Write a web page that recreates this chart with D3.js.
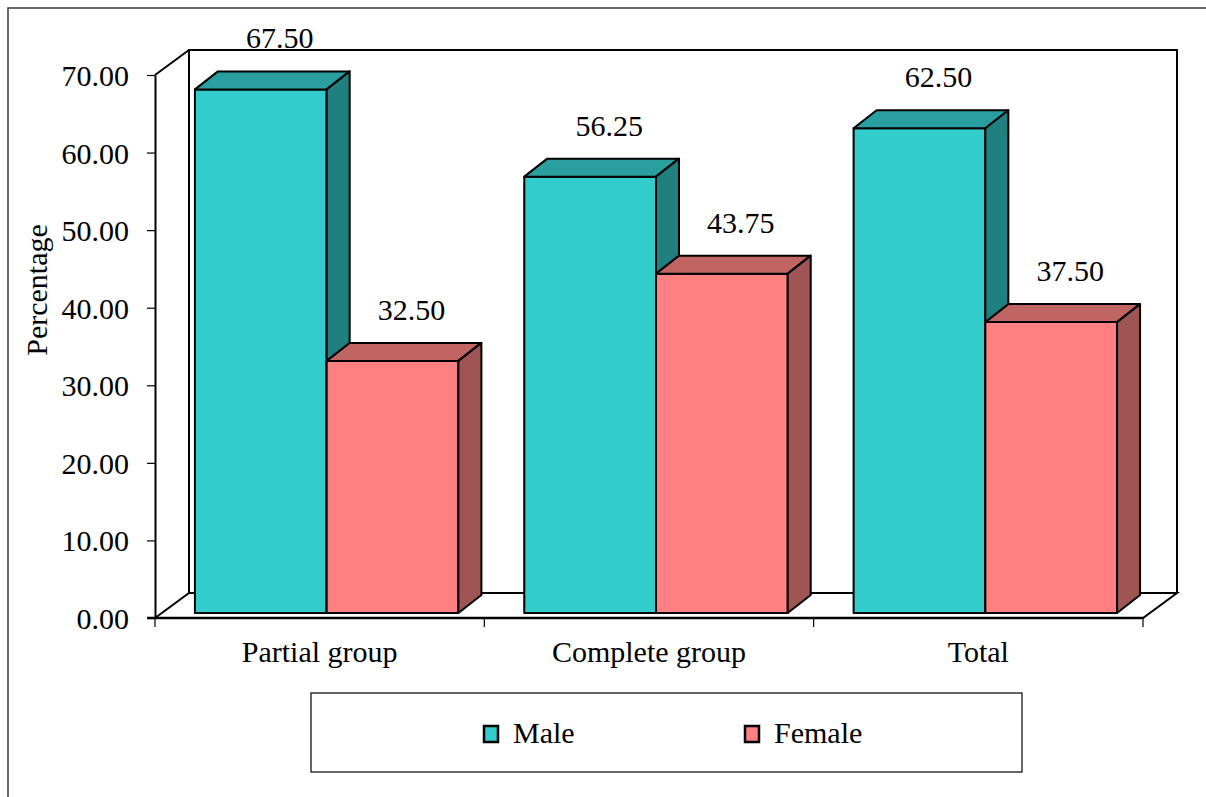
<!DOCTYPE html>
<html>
<head>
<meta charset="utf-8">
<script src="https://cdn.jsdelivr.net/npm/d3@7"></script>
<style>
  html, body { margin: 0; padding: 0; background: #fff; }
  svg { display: block; }
  text { font-family: "Liberation Serif", "Times New Roman", serif; fill: #000; }
</style>
</head>
<body>
<svg id="chart" width="1206" height="797"></svg>
<script>
// Data
const categories = ["Partial group", "Complete group", "Total"];
const seriesNames = ["Male", "Female"];
const maleValues = [67.50, 56.25, 62.50];
const femaleValues = [32.50, 43.75, 37.50];
const yTickValues = [0, 10, 20, 30, 40, 50, 60, 70];

const seriesValues = [maleValues, femaleValues];
const frontColors = ["#33CCCC", "#FF8080"];
const topColors = ["#2A9F9F", "#C06464"];
const sideColors = ["#208080", "#A05555"];

const svg = d3.select("#chart");

// Outer frame (top and left edges visible)
svg.append("rect")
  .attr("x", 8).attr("y", 8).attr("width", 1230).attr("height", 820)
  .attr("fill", "none").attr("stroke", "#3a3a3a").attr("stroke-width", 1.5);

// Plot geometry (front plane) and depth of the 3-D box
const x0 = 155, x1 = 1143, yBase = 618, yTop = 75;
const wallDX = 34, wallDY = -25;      // depth of floor / side wall
const barOffDX = 7, barOffDY = -5;    // where the bar front sits inside the depth
const barDX = 23, barDY = -18;        // depth of each bar

const y = d3.scaleLinear().domain([0, 70]).range([yBase, yTop]);
const x = d3.scaleBand().domain(categories).range([x0, x1]).padding(0);
const xs = d3.scaleBand().domain(seriesNames).range([0, x.bandwidth()])
  .paddingInner(0).paddingOuter(0.25);

const line = (pts) => "M" + pts.map(p => p.join(",")).join("L");

// Back wall
const wall = svg.append("g");
wall.append("path")
  .attr("d", line([[x0 + wallDX, yBase + wallDY], [x0 + wallDX, yTop + wallDY],
                   [x1 + wallDX, yTop + wallDY], [x1 + wallDX, yBase + wallDY]]) + "Z")
  .attr("fill", "#fff").attr("stroke", "#000").attr("stroke-width", 2);
// Floor
wall.append("path")
  .attr("d", line([[x0, yBase], [x0 + wallDX, yBase + wallDY],
                   [x1 + wallDX, yBase + wallDY], [x1, yBase]]) + "Z")
  .attr("fill", "#fff").attr("stroke", "#000").attr("stroke-width", 2);
// Side wall top edge
wall.append("path")
  .attr("d", line([[x0, yTop], [x0 + wallDX, yTop + wallDY]]))
  .attr("fill", "none").attr("stroke", "#000").attr("stroke-width", 2);

// Y axis
const yAxis = d3.axisLeft(y).tickValues(yTickValues).tickSize(8).tickSizeOuter(0)
  .tickFormat(d3.format(".2f"));
const gy = svg.append("g").attr("transform", `translate(${x0},0)`).call(yAxis);
gy.select(".domain").attr("stroke", "#000").attr("stroke-width", 2);
gy.selectAll(".tick line").attr("stroke", "#000").attr("stroke-width", 1.2);
gy.selectAll(".tick text")
  .attr("x", -26).attr("dy", "0.35em")
  .style("font-family", "'Liberation Serif', 'Times New Roman', serif")
  .style("font-size", "30px").attr("fill", "#000");

// X axis: boundary ticks and centred category labels
const boundaries = categories.map(c => x(c)).concat([x1]);
svg.append("g").selectAll("line").data(boundaries).join("line")
  .attr("x1", d => d).attr("x2", d => d)
  .attr("y1", yBase).attr("y2", yBase + 9)
  .attr("stroke", "#000").attr("stroke-width", 1.2);
svg.append("line")
  .attr("x1", x0 - 8).attr("x2", x1).attr("y1", yBase).attr("y2", yBase)
  .attr("stroke", "#000").attr("stroke-width", 2.5);
svg.append("g").selectAll("text").data(categories).join("text")
  .attr("x", d => x(d) + x.bandwidth() / 2)
  .attr("y", yBase + 44)
  .attr("text-anchor", "middle")
  .style("font-size", "30px")
  .text(d => d);

// Bars, drawn left to right so nearer faces overlap correctly
const bars = svg.append("g");
const hOf = (v) => yBase - y(v);
categories.forEach((cat, ci) => {
  seriesNames.forEach((s, si) => {
    const v = seriesValues[si][ci];
    const left = x(cat) + xs(s) + barOffDX;
    const right = left + xs.bandwidth();
    const bottom = yBase + barOffDY;
    const top = bottom - hOf(v);
    const g = bars.append("g").attr("stroke", "#000").attr("stroke-width", 2)
      .attr("stroke-linejoin", "round");
    g.append("path")
      .attr("d", line([[left, top], [right, top], [right, bottom], [left, bottom]]) + "Z")
      .attr("fill", frontColors[si]);
    g.append("path")
      .attr("d", line([[left, top], [left + barDX, top + barDY],
                       [right + barDX, top + barDY], [right, top]]) + "Z")
      .attr("fill", topColors[si]);
    g.append("path")
      .attr("d", line([[right, top], [right + barDX, top + barDY],
                       [right + barDX, bottom + barDY], [right, bottom]]) + "Z")
      .attr("fill", sideColors[si]);
  });
});

// Value labels above each bar
const labels = svg.append("g");
categories.forEach((cat, ci) => {
  seriesNames.forEach((s, si) => {
    const v = seriesValues[si][ci];
    const left = x(cat) + xs(s) + barOffDX;
    const cx = left + xs.bandwidth() / 2 + barDX - 4;
    const top = yBase + barOffDY - hOf(v) + barDY;
    labels.append("text")
      .attr("x", cx).attr("y", top - 23)
      .attr("text-anchor", "middle")
      .style("font-size", "30px")
      .text(d3.format(".2f")(v));
  });
});

// Y axis title
svg.append("text")
  .attr("transform", "translate(47,290) rotate(-90)")
  .attr("text-anchor", "middle")
  .style("font-size", "30px")
  .text("Percentage");

// Legend
const legend = svg.append("g");
legend.append("rect")
  .attr("x", 311).attr("y", 693).attr("width", 711).attr("height", 79)
  .attr("fill", "#fff").attr("stroke", "#000").attr("stroke-width", 1.2);
const legendX = [484, 745];
seriesNames.forEach((s, si) => {
  legend.append("rect")
    .attr("x", legendX[si]).attr("y", 726).attr("width", 14).attr("height", 16)
    .attr("fill", frontColors[si]).attr("stroke", "#000").attr("stroke-width", 2.5);
  legend.append("text")
    .attr("x", legendX[si] + 29).attr("y", 743)
    .style("font-size", "30px")
    .text(s);
});
</script>
</body>
</html>
